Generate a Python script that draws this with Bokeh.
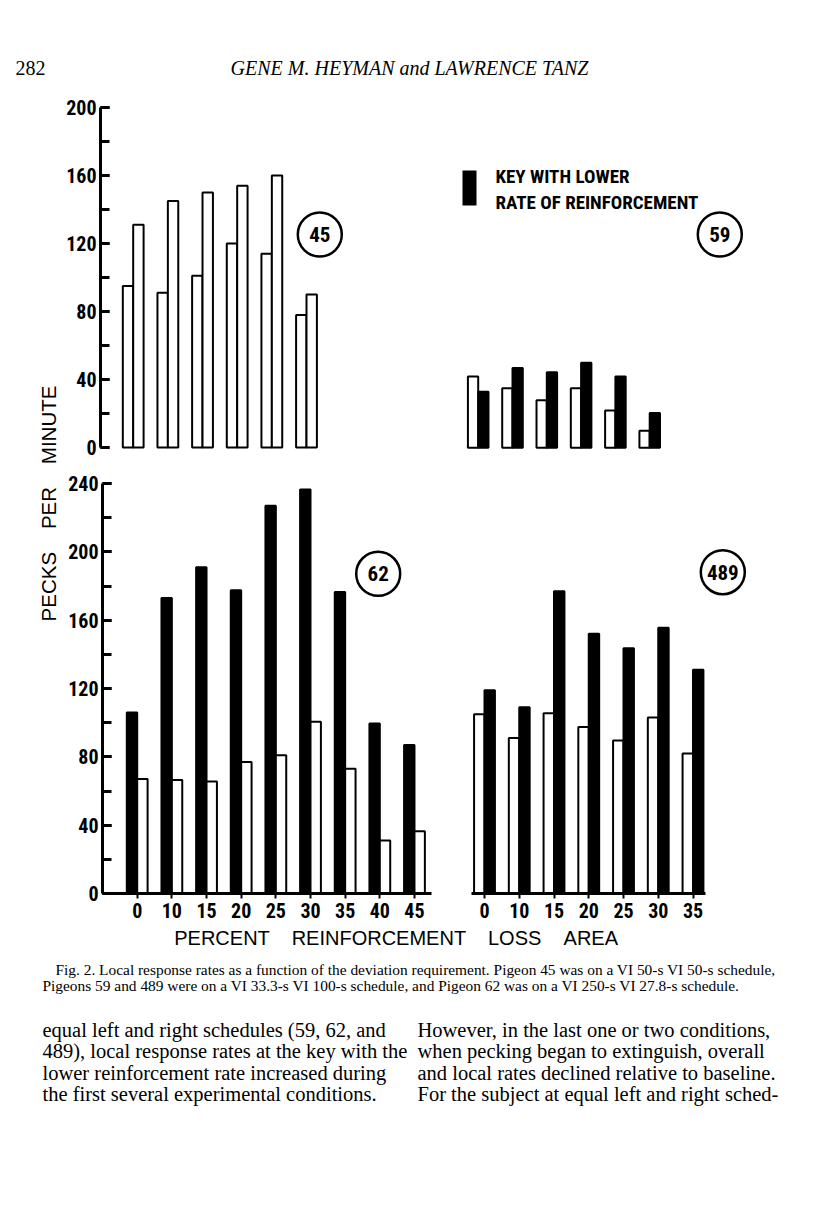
import math
import numpy as np
from bokeh.plotting import figure
from bokeh.models import Range1d, SingleIntervalTicker, FixedTicker, BoxAnnotation, Label
from bokeh.layouts import column, row
from bokeh.embed import file_html
from bokeh.resources import INLINE
from bokeh.core.properties import value

# ---------------- data ----------------
labels_62 = ["0", "10", "15", "20", "25", "30", "35", "40", "45"]
labels_489 = ["0", "10", "15", "20", "25", "30", "35"]
p45_left = [95, 91, 101, 120, 114, 78]
p45_right = [131, 145, 150, 154, 160, 90]
p59_white = [42, 35, 28, 35, 22, 10]
p59_black = [33, 47, 44.5, 50, 42, 20.5]
p62_black = [106, 173, 191, 177.5, 227, 236.5, 176.5, 99.5, 87]
p62_white = [67, 66.5, 65.5, 77, 81, 100.5, 73, 31, 36.5]
p489_white = [105, 91, 105.5, 97.5, 89.5, 103, 82]
p489_black = [119, 109, 177, 152, 143.5, 155.5, 131]
pigeons = ["45", "59", "62", "489"]
legend_lines = ["KEY WITH LOWER", "RATE OF REINFORCEMENT"]

COND = "'Roboto Condensed', 'Liberation Sans Narrow', 'DejaVu Sans Condensed', 'Arial Narrow', 'Liberation Sans', sans-serif"
SANS = "Liberation Sans"
SERIF = "Liberation Serif"
BW = 0.30  # bar width (units of one condition step)
SP = " \u00a0\u00a0\u00a0"  # wide word gap used in the axis titles


class Panel:
    def __init__(self, L, T, W, H, bl, br, bt, bb, ax, sx, y0, ky, xaxis, yaxis):
        self.ax, self.sx, self.y0, self.ky = ax, sx, y0, ky
        fl, fr, ft, fb = L + bl, L + W - br, T + bt, T + H - bb
        self.p = figure(width=W, height=H, output_backend="svg", toolbar_location=None,
                        x_range=Range1d(self.px(fl), self.px(fr)),
                        y_range=Range1d(self.py(fb), self.py(ft)),
                        min_border_left=bl, min_border_right=br,
                        min_border_top=bt, min_border_bottom=bb,
                        x_axis_location="below" if xaxis else None,
                        y_axis_location="left" if yaxis else None)
        self.p.outline_line_color = None
        self.p.grid.visible = False
        self.p.background_fill_color = "white"
        self.p.border_fill_color = "white"

    def px(self, xpage):
        return (xpage - self.ax) / self.sx

    def py(self, ypage):
        return (self.y0 - ypage) / self.ky


def style_yaxis(p, top):
    a = p.yaxis[0]
    a.ticker = SingleIntervalTicker(interval=40, num_minor_ticks=2)
    a.bounds = (0, top)
    a.axis_line_width = 3
    a.major_tick_line_width = 3
    a.minor_tick_line_width = 3
    a.major_tick_in = 9
    a.major_tick_out = 0
    a.minor_tick_in = 9
    a.minor_tick_out = 0
    a.major_label_standoff = 4
    a.major_label_text_font = COND
    a.major_label_text_font_size = "20px"
    a.major_label_text_font_style = "bold"
    a.major_label_text_color = "black"


def style_xaxis(p, labels, bounds=None):
    a = p.xaxis[0]
    a.ticker = FixedTicker(ticks=list(range(len(labels))))
    a.major_label_overrides = {i: lab for i, lab in enumerate(labels)}
    a.minor_tick_line_color = None
    a.axis_line_width = 3
    a.major_tick_line_width = 2
    a.major_tick_in = 0
    a.major_tick_out = 5
    a.major_label_standoff = 4
    a.major_label_text_font = COND
    a.major_label_text_font_size = "20px"
    a.major_label_text_font_style = "bold"
    a.major_label_text_color = "black"
    if bounds is not None:
        a.bounds = bounds


def bars(p, vals, side, fill):
    idx = np.arange(len(vals))
    xs = idx + side * BW / 2
    p.vbar(x=xs, width=BW, top=vals, bottom=0, fill_color=fill,
           line_color="black", line_width=2)


def badge(panel, xpage, ypage, txt):
    p = panel.p
    p.scatter(x=[panel.px(xpage)], y=[panel.py(ypage)], marker="circle", size=44,
              fill_color="white", line_color="black", line_width=2.5)
    p.text(x=[panel.px(xpage)], y=[panel.py(ypage)], text=[txt], text_font=value(COND),
           text_font_size="21px", text_font_style="bold", text_align="center",
           text_baseline="middle", text_color="black")


def page_fig(W, H, x0, y0):
    f = figure(width=W, height=H, output_backend="svg", toolbar_location=None,
               x_range=Range1d(x0, x0 + W), y_range=Range1d(y0 + H, y0),
               x_axis_location=None, y_axis_location=None, min_border=0)
    f.outline_line_color = None
    f.grid.visible = False
    return f


# ---------------- header ----------------
head = page_fig(800, 90, 0, 0)
head.text(x=[15], y=[67], text=["282"], text_font=value(SERIF), text_font_size="20px",
          text_align="left", text_baseline="middle", text_color="black")
head.text(x=[409], y=[67], text=["GENE M. HEYMAN and LAWRENCE TANZ"], text_font=value(SERIF),
          text_font_size="20px", text_font_style="italic", text_align="center",
          text_baseline="middle", text_color="black")

# ---------------- shared y-axis title (spans both panel rows) ----------------
ylab = figure(width=60, height=835, output_backend="svg", toolbar_location=None,
              x_range=Range1d(0, 1), y_range=Range1d(0, 1),
              x_axis_location=None, y_axis_location="left",
              min_border_left=56, min_border_right=0, min_border_top=0, min_border_bottom=9)
ylab.outline_line_color = None
ylab.grid.visible = False
ya = ylab.yaxis[0]
ya.axis_label = "PECKS" + SP + "PER" + SP + "MINUTE"
ya.axis_label_text_font = SANS
ya.axis_label_text_font_size = "20.5px"
ya.axis_label_text_font_style = "normal"
ya.axis_label_text_color = "black"
ya.axis_label_standoff = -9
ya.axis_line_color = None
ya.major_tick_line_color = None
ya.minor_tick_line_color = None
ya.major_label_text_font_size = "0px"
ya.major_label_text_color = None
ya.major_label_standoff = 0

# ---------------- pigeon 45 ----------------
P45 = Panel(60, 90, 380, 375, 40, 0, 14, 14, 132.7, 34.66, 447, 1.7, False, True)
style_yaxis(P45.p, 200)
bars(P45.p, p45_left, -1, "white")
bars(P45.p, p45_right, 1, "white")
badge(P45, 319.3, 234, pigeons[0])

# ---------------- pigeon 59 ----------------
P59 = Panel(440, 90, 360, 375, 0, 0, 14, 14, 477.7, 34.3, 447.3, 1.7, False, False)
bars(P59.p, p59_white, -1, "white")
bars(P59.p, p59_black, 1, "black")
badge(P59, 719.3, 234, pigeons[1])
P59.p.add_layout(BoxAnnotation(left=P59.px(462), right=P59.px(476), top=P59.py(170),
                               bottom=P59.py(205), fill_color="black", fill_alpha=1.0,
                               line_color=None))
for txt, yp in zip(legend_lines, [176, 202]):
    P59.p.add_layout(Label(x=P59.px(495), y=P59.py(yp), text=txt, text_font=COND,
                           text_font_size="19px", text_font_style="bold",
                           text_baseline="middle", text_color="black"))

# ---------------- pigeon 62 ----------------
P62 = Panel(60, 465, 380, 460, 42, 9, 13, 32, 136.7, 34.66, 893, 1.7083, True, True)
style_yaxis(P62.p, 240)
style_xaxis(P62.p, labels_62)
bars(P62.p, p62_black, -1, "black")
bars(P62.p, p62_white, 1, "white")
badge(P62, 377.7, 573.3, pigeons[2])

# ---------------- pigeon 489 ----------------
P489 = Panel(440, 465, 360, 460, 0, 0, 13, 32, 484, 34.75, 893, 1.7083, True, False)
style_xaxis(P489.p, labels_489, bounds=(-0.36, 6.35))
bars(P489.p, p489_white, -1, "white")
bars(P489.p, p489_black, 1, "black")
badge(P489, 722.3, 571.7, pigeons[3])

# ---------------- footer ----------------
foot = page_fig(800, 266, 0, 925)
foot.text(x=[396], y=[937], text=["PERCENT" + SP + "REINFORCEMENT" + SP + "LOSS" + SP + "AREA"],
          text_font=value(SANS), text_font_size="20px", text_align="center",
          text_baseline="middle", text_color="black")
caption = ["Fig. 2.   Local response rates as a function of the deviation requirement. Pigeon 45 was on a VI 50-s VI 50-s schedule,",
           "Pigeons 59 and 489 were on a VI 33.3-s VI 100-s schedule, and Pigeon 62 was on a VI 250-s VI 27.8-s schedule."]
foot.text(x=[55, 42], y=[969, 985], text=caption, text_font=value(SERIF), text_font_size="15.4px",
          text_align="left", text_baseline="middle", text_color="black")
body_left = ["equal left and right schedules (59, 62, and",
             "489), local response rates at the key with the",
             "lower reinforcement rate increased during",
             "the first several experimental conditions."]
body_right = ["However, in the last one or two conditions,",
              "when pecking began to extinguish, overall",
              "and local rates declined relative to baseline.",
              "For the subject at equal left and right sched-"]
ys = [1029, 1050, 1072, 1093]
foot.text(x=[42] * 4, y=ys, text=body_left, text_font=value(SERIF), text_font_size="20.5px",
          text_align="left", text_baseline="middle", text_color="black")
foot.text(x=[417] * 4, y=ys, text=body_right, text_font=value(SERIF), text_font_size="20.5px",
          text_align="left", text_baseline="middle", text_color="black")

layout = column(head,
                row(ylab, column(row(P45.p, P59.p), row(P62.p, P489.p))),
                foot)

open("out.html", "w").write(file_html(layout, INLINE))
